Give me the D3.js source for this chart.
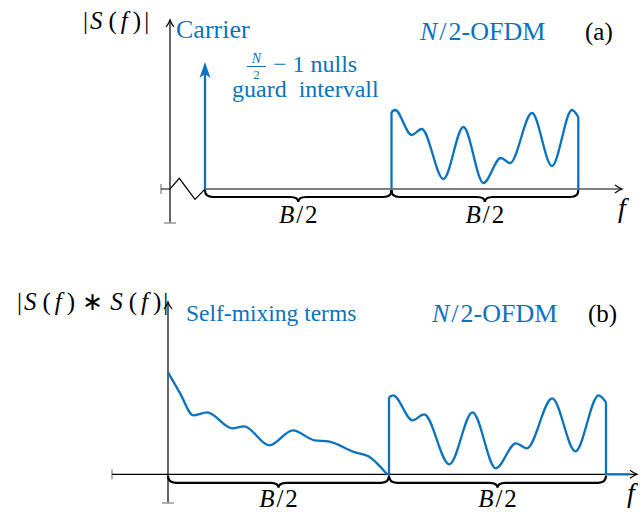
<!DOCTYPE html>
<html><head><meta charset="utf-8">
<script src="https://cdn.jsdelivr.net/npm/d3@7"></script>
<style>
body{margin:0;background:#fff}
</style>
</head><body>
<svg id="c" width="644" height="512"></svg>
<script>
// ---------- data (x in units of B/2, y in arbitrary amplitude units) ----------
const carrierX = 0;
const carrierAmp = 1.27;
const bandEdges = [0, 1, 2];
const ofdmX = [1.0, 1.019, 1.108, 1.162, 1.278, 1.385, 1.492, 1.585, 1.635, 1.752, 1.859, 1.966, 2.0];
const ofdmY = [0.77, 0.79, 0.54, 0.60, 0.10, 0.62, 0.06, 0.31, 0.26, 0.76, 0.23, 0.79, 0.72];
const selfX = [0.0, 0.055, 0.114, 0.177, 0.291, 0.344, 0.458, 0.565, 0.663, 0.725, 0.846, 0.907, 0.991];
const selfY = [1.02, 0.81, 0.59, 0.62, 0.46, 0.48, 0.29, 0.44, 0.34, 0.33, 0.22, 0.18, 0.0];
const tailEnd = 2.11;
const braceLabels = ["B", "B"];

const BLUE = "#0b72bd";
const FONT = "Liberation Serif";
const svg = d3.select("#c");

// ---------- helpers ----------
function arrowHead(g, x, y, dir) {
  const p = dir === "right"
    ? `M${x-7},${y-4} Q${x-3},${y-1} ${x},${y} Q${x-3},${y+1} ${x-7},${y+4}`
    : `M${x-4},${y+7} Q${x-1},${y+3} ${x},${y} Q${x+1},${y+3} ${x+4},${y+7}`;
  g.append("path").attr("d", p).attr("fill", "none").attr("stroke", "#000").attr("stroke-width", 1.2);
}
function brace(g, x1, x2, y0) {
  const h = 7, d = 12, r = 8, m = (x1 + x2) / 2;
  const p = `M${x1},${y0} Q${x1},${y0+h} ${x1+r},${y0+h} L${m-r},${y0+h} Q${m},${y0+h} ${m},${y0+d}` +
            ` Q${m},${y0+h} ${m+r},${y0+h} L${x2-r},${y0+h} Q${x2},${y0+h} ${x2},${y0}`;
  g.append("path").attr("d", p).attr("fill", "none").attr("stroke", "#000").attr("stroke-width", 2.2);
}
// parts: [text, italic, dx]
function label(g, parts, x, y, size, color, anchor) {
  const t = g.append("text").attr("x", x).attr("y", y)
    .attr("font-family", FONT).attr("font-size", size)
    .attr("fill", color).attr("text-anchor", anchor || "start");
  parts.forEach(p => {
    const s = t.append("tspan").attr("font-style", p[1] ? "italic" : "normal").text(p[0]);
    if (p[2]) s.attr("dx", p[2]);
  });
  return t;
}
const curve = d3.line().x(d => d.x).y(d => d.y).curve(d3.curveMonotoneX);
const straight = d3.line().x(d => d.x).y(d => d.y);

// ================= panel (a) =================
const ga = svg.append("g");
const xa = d3.scaleLinear().domain([0, 1, 2]).range([205, 391.5, 578.3]);
const ya = d3.scaleLinear().domain([0, 1]).range([189, 89]);
const a0 = ya(0);

ga.append("line").attr("x1", 170).attr("x2", 170).attr("y1", 223).attr("y2", 20).attr("stroke", "#000").attr("stroke-width", 1.2);
arrowHead(ga, 170, 20, "up");
ga.append("line").attr("x1", 164).attr("x2", 176).attr("y1", 223).attr("y2", 223).attr("stroke", "#999").attr("stroke-width", 1.5);
ga.append("line").attr("x1", 161).attr("x2", 161).attr("y1", a0-5).attr("y2", a0+5).attr("stroke", "#999").attr("stroke-width", 1.5);
ga.append("path").attr("d", `M161,${a0} L170,${a0} L179.3,${a0-10.7} L195,${a0+10.3} L${xa(0)},${a0} L622,${a0}`)
  .attr("fill", "none").attr("stroke", "#000").attr("stroke-width", 1.2);
arrowHead(ga, 622, a0, "right");

const cx = xa(carrierX), ctip = ya(carrierAmp);
ga.append("line").attr("x1", cx).attr("x2", cx).attr("y1", a0).attr("y2", ctip + 10).attr("stroke", BLUE).attr("stroke-width", 2.3);
ga.append("path").attr("d", `M${cx},${ctip} L${cx+5.5},${ctip+16} L${cx},${ctip+12} L${cx-5.5},${ctip+16} Z`).attr("fill", BLUE);

const ofdmA = ofdmX.map((x, i) => ({x: xa(x), y: ya(ofdmY[i])}));
ga.append("path").attr("d", curve(ofdmA)).attr("fill", "none").attr("stroke", BLUE).attr("stroke-width", 2.3);
ga.append("path").attr("d", straight([{x: xa(ofdmX[0]), y: a0}, ofdmA[0]])).attr("stroke", BLUE).attr("stroke-width", 2.3);
ga.append("path").attr("d", straight([ofdmA[ofdmA.length-1], {x: xa(ofdmX[ofdmX.length-1]), y: a0}])).attr("stroke", BLUE).attr("stroke-width", 2.3);

for (let i = 0; i < bandEdges.length - 1; i++) {
  brace(ga, xa(bandEdges[i]), xa(bandEdges[i+1]), a0 + 1);
  label(ga, [[braceLabels[i], true], ["/", false, 2], ["2", false, 2]], (xa(bandEdges[i]) + xa(bandEdges[i+1])) / 2, 223, 25, "#000", "middle");
}

label(ga, [["|", false], ["S", true, 2], ["(", false, 6], ["f", true, 4], [")", false, 5], ["|", false, 3]], 83, 29, 25, "#000");
label(ga, [["Carrier", false]], 176, 38, 26, BLUE);
label(ga, [["N", true]], 256.5, 63, 14, BLUE, "middle");
ga.append("line").attr("x1", 247).attr("x2", 266).attr("y1", 66.5).attr("y2", 66.5).attr("stroke", BLUE).attr("stroke-width", 1);
label(ga, [["2", false]], 256.5, 79, 13, BLUE, "middle");
label(ga, [["\u2212 1 nulls", false]], 273, 72, 24, BLUE);
label(ga, [["guard\u2002intervall", false]], 232, 97, 24, BLUE);
label(ga, [["N", true], ["/", false, 2], ["2-OFDM", false, 2]], 420, 40, 26, BLUE);
label(ga, [["(a)", false]], 585, 40, 25, "#000");
label(ga, [["f", true]], 622, 217, 28, "#000", "middle");

// ================= panel (b) =================
const gb = svg.append("g");
const xb = d3.scaleLinear().domain([0, 1, 2]).range([168, 389, 606]);
const yb = d3.scaleLinear().domain([0, 1]).range([474.3, 374.3]);
const b0 = yb(0);

gb.append("line").attr("x1", 168).attr("x2", 168).attr("y1", 503).attr("y2", 302).attr("stroke", "#000").attr("stroke-width", 1.2);
arrowHead(gb, 168, 302, "up");
gb.append("line").attr("x1", 162).attr("x2", 174).attr("y1", 503).attr("y2", 503).attr("stroke", "#999").attr("stroke-width", 1.5);
gb.append("line").attr("x1", 112).attr("x2", 112).attr("y1", b0-5).attr("y2", b0+5).attr("stroke", "#999").attr("stroke-width", 1.5);
gb.append("line").attr("x1", 112).attr("x2", 637).attr("y1", b0).attr("y2", b0).attr("stroke", "#000").attr("stroke-width", 1.2);

const selfB = selfX.map((x, i) => ({x: xb(x), y: yb(selfY[i])}));
gb.append("path").attr("d", curve(selfB)).attr("fill", "none").attr("stroke", BLUE).attr("stroke-width", 2.3);
gb.append("path").attr("d", straight([{x: xb(selfX[selfX.length-1]), y: b0}, {x: xb(ofdmX[0]), y: b0}])).attr("stroke", BLUE).attr("stroke-width", 2.3);

const ofdmB = ofdmX.map((x, i) => ({x: xb(x), y: yb(ofdmY[i])}));
gb.append("path").attr("d", curve(ofdmB)).attr("fill", "none").attr("stroke", BLUE).attr("stroke-width", 2.3);
gb.append("path").attr("d", straight([{x: xb(ofdmX[0]), y: b0}, ofdmB[0]])).attr("stroke", BLUE).attr("stroke-width", 2.3);
gb.append("path").attr("d", straight([ofdmB[ofdmB.length-1], {x: xb(ofdmX[ofdmX.length-1]), y: b0}, {x: xb(tailEnd), y: b0}]))
  .attr("fill", "none").attr("stroke", BLUE).attr("stroke-width", 2.3);
arrowHead(gb, 637, b0, "right");

for (let i = 0; i < bandEdges.length - 1; i++) {
  brace(gb, xb(bandEdges[i]), xb(bandEdges[i+1]), b0 + 1.5);
  label(gb, [[braceLabels[i], true], ["/", false, 2], ["2", false, 2]], (xb(bandEdges[i]) + xb(bandEdges[i+1])) / 2, 507, 25, "#000", "middle");
}

label(gb, [["|", false], ["S", true, 2], ["(", false, 6], ["f", true, 4], [")", false, 5], ["\u2217", false, 7], ["S", true, 7], ["(", false, 6], ["f", true, 4], [")", false, 5], ["|", false, 2]], 17, 310, 25, "#000");
label(gb, [["Self-mixing terms", false]], 186, 321, 23.5, BLUE);
label(gb, [["N", true], ["/", false, 2], ["2-OFDM", false, 2]], 432, 322, 26, BLUE);
label(gb, [["(b)", false]], 588, 322, 25, "#000");
label(gb, [["f", true]], 631, 502, 28, "#000", "middle");
</script>
</body></html>
